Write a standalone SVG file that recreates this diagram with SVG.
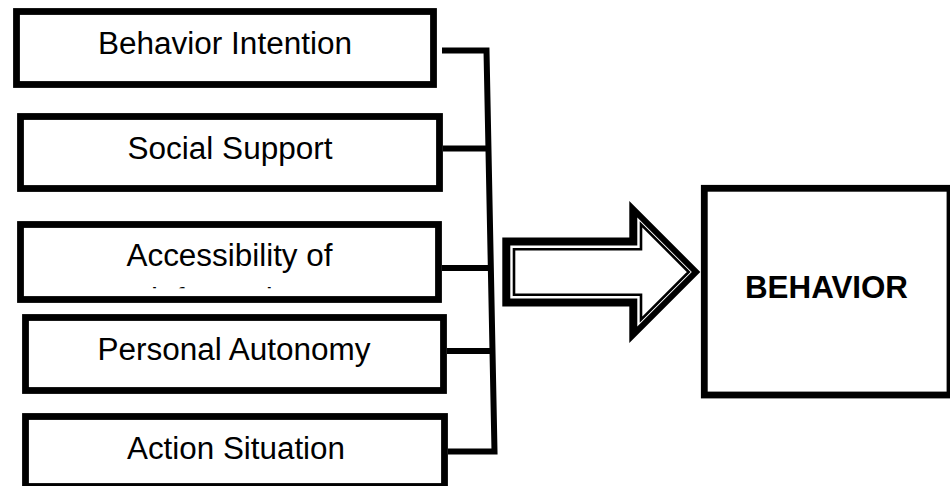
<svg xmlns="http://www.w3.org/2000/svg" width="950" height="486" viewBox="0 0 950 486">
  <defs>
    <style>
      .box { fill: #ffffff; stroke: #000000; stroke-width: 6.8; }
      .label { font-family: "Liberation Sans", Arial, sans-serif; font-size: 31px; fill: #000000; text-anchor: middle; }
      .bold { font-weight: bold; font-size: 30.5px; }
      .wire { fill: none; stroke: #000000; stroke-width: 6; stroke-linejoin: miter; }
    </style>
    <!-- second line of the third box, cut off by the box interior -->
    <clipPath id="clip-access">
      <rect x="24" y="228" width="411" height="60.3"/>
    </clipPath>
  </defs>

  <rect width="950" height="486" fill="#ffffff"/>

  <!-- factor boxes -->
  <g id="node-intention">
    <rect class="box" x="16.5" y="11.5" width="417" height="73"/>
    <text class="label" x="225" y="54" textLength="254" lengthAdjust="spacingAndGlyphs">Behavior Intention</text>
  </g>

  <g id="node-support">
    <rect class="box" x="20.5" y="116.5" width="419" height="72"/>
    <text class="label" x="230" y="159" textLength="205" lengthAdjust="spacingAndGlyphs">Social Support</text>
  </g>

  <g id="node-access">
    <rect class="box" x="20.5" y="224.5" width="418" height="75"/>
    <text class="label" x="229.5" y="266" textLength="206" lengthAdjust="spacingAndGlyphs">Accessibility of</text>
    <text class="label" x="229.5" y="309.5" textLength="157" lengthAdjust="spacingAndGlyphs" clip-path="url(#clip-access)">information</text>
  </g>

  <g id="node-autonomy">
    <rect class="box" x="25.5" y="317.5" width="418" height="73"/>
    <text class="label" x="234" y="360" textLength="273" lengthAdjust="spacingAndGlyphs">Personal Autonomy</text>
  </g>

  <g id="node-situation">
    <rect class="box" x="25.5" y="416.5" width="419" height="70"/>
    <text class="label" x="236" y="459" textLength="218" lengthAdjust="spacingAndGlyphs">Action Situation</text>
  </g>

  <!-- bus collecting the factors -->
  <g id="connectors">
    <path class="wire" d="M442,50.5 H486.5 L494.5,451.5 H448"/>
    <line class="wire" x1="443" y1="148.5" x2="489" y2="148.5"/>
    <line class="wire" x1="442" y1="268" x2="491" y2="268"/>
    <line class="wire" x1="447" y1="351" x2="493" y2="351"/>
  </g>

  <!-- double-outlined block arrow -->
  <g id="arrow">
    <polygon fill="#000000" points="502.3,237.5 629.3,237.5 629.3,201 700.3,272 629.3,343 629.3,306.5 502.3,306.5"/>
    <polygon fill="#ffffff" points="510.3,245.5 637.3,245.5 637.3,217.5 691.8,272 637.3,326.5 637.3,298.5 510.3,298.5"/>
    <polygon fill="none" stroke="#000000" stroke-width="2.6" points="514,249.2 641,249.2 641,224.3 688.7,272 641,319.7 641,294.8 514,294.8"/>
  </g>

  <!-- outcome -->
  <g id="node-behavior">
    <rect class="box" x="704.3" y="188.3" width="245.7" height="206.7"/>
    <text class="label bold" x="826.5" y="298" textLength="163" lengthAdjust="spacingAndGlyphs">BEHAVIOR</text>
  </g>
</svg>
